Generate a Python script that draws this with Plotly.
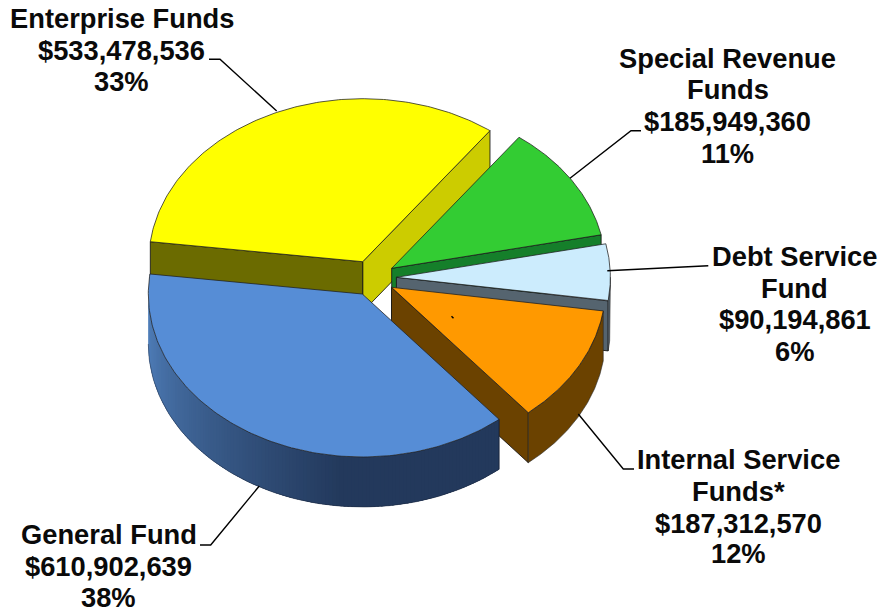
import numpy as np
import plotly.graph_objects as go

# Fund totals in counter-clockwise order, starting from Enterprise Funds
fund_names = ["Enterprise Funds", "General Fund", "Internal Service Funds*", "Debt Service Fund", "Special Revenue Funds"]
fund_values = [533478536, 610902639, 187312570, 90194861, 185949360]
fund_percents = ["33%", "38%", "12%", "6%", "11%"]
dollar_labels = ["$533,478,536", "$610,902,639", "$187,312,570", "$90,194,861", "$185,949,360"]
name_lines = [["Enterprise Funds"], ["General Fund"], ["Internal Service", "Funds*"], ["Debt Service", "Fund"], ["Special Revenue", "Funds"]]

# Pie projection and per-slice styling
START_DEG = 53.5
RX, RY, DEPTH = 214.0, 163.0, 50.0
centers = [(362.7, 261.7), (362.3, 294.0), (391.5, 287.3), (396.4, 277.3), (391.7, 268.3)]
top_colors = ["#FFFF00", "#568DD6", "#FF9900", "#CCECFD", "#33CC33"]
start_wall_colors = ["#CCCC00", "#22385C", "#6B4200", "#55646F", "#157F2A"]
end_wall_colors = ["#6B6B00", "#22385C", "#6B4200", "#55646F", "#157F2A"]
draw_order = [0, 4, 3, 2, 1]

# Callout placement: centre x, baselines of each text line, leader polyline
label_x = [121.6, 108.8, 738.8, 794.5, 727.8]
label_baselines = [[27.5, 60, 91], [544, 576, 607.3], [469, 501, 532.7, 563.3], [266, 297.7, 329.3, 360.7], [68.3, 99.3, 130.7, 162.7]]
leaders = [
    [(209, 59.3), (220, 59.3), (276.7, 111)],
    [(200, 545), (210.7, 545), (259.3, 486)],
    [(634, 469), (623.3, 469), (578.3, 414)],
    [(708.3, 265.7), (607.3, 270.7)],
    [(641, 130.7), (631, 130.7), (570, 178.3)],
]
FONT_SIZE = 27.3
BASELINE_TO_MIDDLE = 9.5

fig = go.Figure()


def add_polygon(xs, ys, fill, line_color="rgba(20,20,20,0.85)", width=1.0):
    fig.add_trace(go.Scatter(x=list(xs) + [xs[0]], y=list(ys) + [ys[0]], mode="lines", fill="toself",
                             fillcolor=fill, line=dict(color=line_color, width=width),
                             hoverinfo="skip", showlegend=False))


def rim(center, degs, drop=0.0):
    rad = np.radians(degs)
    return center[0] + RX * np.cos(rad), center[1] - RY * np.sin(rad) + drop


def side_color(deg):
    # General Fund rim shading: lighter on the left, dark from the bottom onward
    f = np.clip((deg - 180.0) / 85.0, 0.0, 1.0)
    lo, hi = np.array([82, 130, 190]), np.array([35, 57, 92])
    r, g, b = (lo + (hi - lo) * f).astype(int)
    return f"rgb({r},{g},{b})"


shares = np.array(fund_values, dtype=float) / np.sum(fund_values)
sweeps = shares * 360.0
starts = START_DEG + np.concatenate(([0.0], np.cumsum(sweeps)[:-1]))

for i in draw_order:
    c = centers[i]
    t0, t1 = starts[i], starts[i] + sweeps[i]
    degs = np.linspace(t0, t1, 140)
    xa, ya = rim(c, t0)
    xb, yb = rim(c, t1)

    # Cut faces from the hub to the slice edges, skipping those turned away from the viewer
    if np.cos(np.radians(t0)) > 0:
        add_polygon([c[0], xa, xa, c[0]], [c[1], ya, ya + DEPTH, c[1] + DEPTH], start_wall_colors[i])
    if np.cos(np.radians(t1)) < 0:
        add_polygon([c[0], xb, xb, c[0]], [c[1], yb, yb + DEPTH, c[1] + DEPTH], end_wall_colors[i])

    # Only the part of the outer rim facing the viewer (180 to 360 degrees) is drawn
    lo = max(t0, 180.0)
    hi = min(t1, 360.0)
    if hi > lo:
        front = np.linspace(lo, hi, 100)
        xt, yt = rim(c, front)
        xd, yd = rim(c, front, DEPTH)
        if i == 1:
            # Overlapping shaded strips, painted left to right so no seams show
            edges = np.arange(lo, hi, 1.0)
            for d0 in edges:
                seg = np.linspace(d0, min(d0 + 2.5, hi), 6)
                sx, sy = rim(c, seg)
                bx, by = rim(c, seg, DEPTH)
                add_polygon(list(sx) + list(bx[::-1]), list(sy) + list(by[::-1]), side_color(d0 + 0.5),
                            line_color="rgba(0,0,0,0)", width=0)
            fig.add_trace(go.Scatter(x=list(xd), y=list(yd), mode="lines", line=dict(color="rgba(25,35,55,0.45)", width=1),
                                     hoverinfo="skip", showlegend=False))
            fig.add_trace(go.Scatter(x=[xb, xb], y=[yb, yb + DEPTH], mode="lines", line=dict(color="rgba(20,30,50,0.8)", width=1),
                                     hoverinfo="skip", showlegend=False))
        else:
            add_polygon(list(xt) + list(xd[::-1]), list(yt) + list(yd[::-1]), end_wall_colors[i], line_color="rgba(40,40,40,0.6)")

    # Top surface
    xt, yt = rim(c, degs)
    add_polygon([c[0]] + list(xt), [c[1]] + list(yt), top_colors[i], line_color="rgba(30,30,30,0.75)")

# Small tick printed on the Internal Service slice, placed relative to its hub
hub = centers[2]
fig.add_trace(go.Scatter(x=[hub[0] + 60, hub[0] + 62], y=[hub[1] + 29, hub[1] + 31], mode="lines",
                         line=dict(color="black", width=1.5), hoverinfo="skip", showlegend=False))

# Leader lines
for pts in leaders:
    fig.add_trace(go.Scatter(x=[p[0] for p in pts], y=[p[1] for p in pts], mode="lines",
                             line=dict(color="black", width=1.4), hoverinfo="skip", showlegend=False))

# Callout text, one annotation per line for tight leading
for i in range(len(fund_names)):
    lines = name_lines[i] + [dollar_labels[i], fund_percents[i]]
    for text, base in zip(lines, label_baselines[i]):
        fig.add_annotation(x=label_x[i], y=base - BASELINE_TO_MIDDLE, text=f"<b>{text}</b>", showarrow=False,
                           xanchor="center", yanchor="middle", borderpad=0,
                           font=dict(family="Liberation Sans", size=FONT_SIZE, color="#0a0a0a"))

fig.update_xaxes(range=[0, 881], visible=False, fixedrange=True)
fig.update_yaxes(range=[614, 0], visible=False, fixedrange=True)
fig.update_layout(width=881, height=614, margin=dict(l=0, r=0, t=0, b=0), autosize=False,
                  paper_bgcolor="white", plot_bgcolor="white", showlegend=False)

fig.write_html("out.html")
